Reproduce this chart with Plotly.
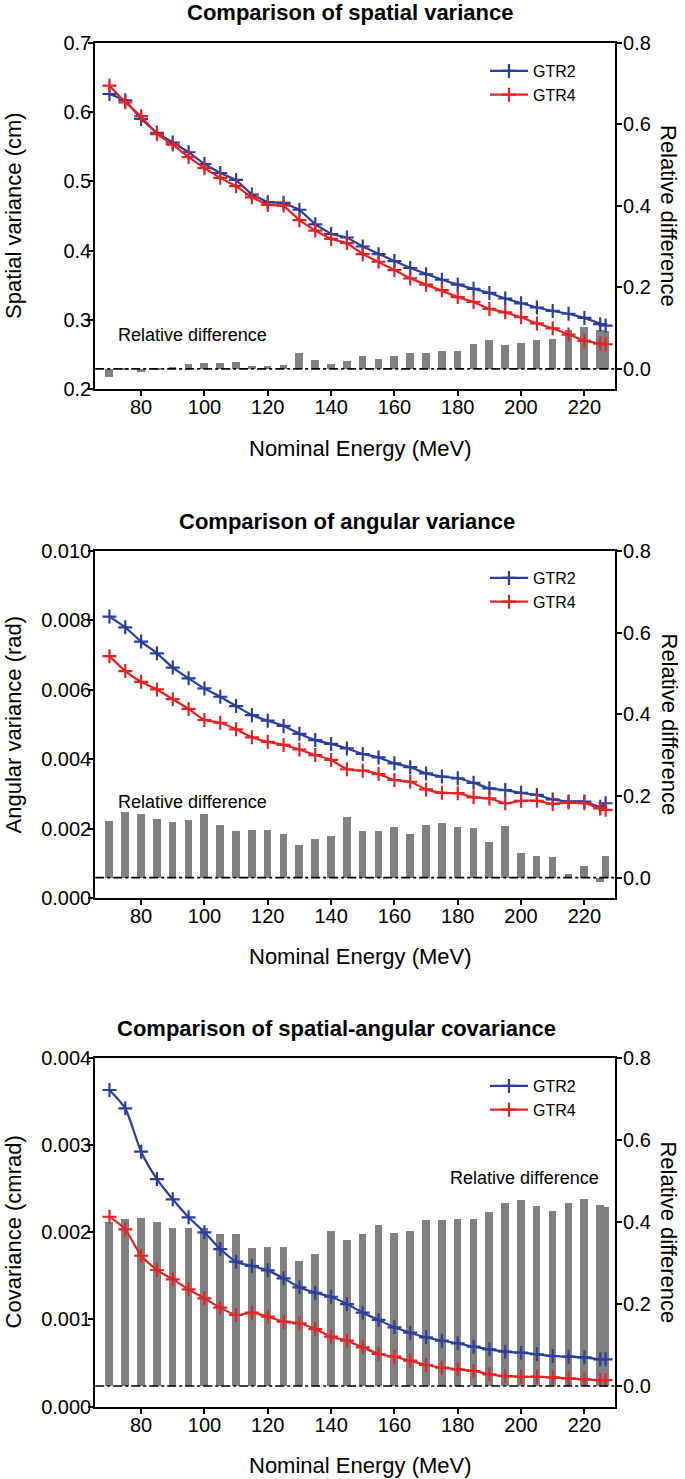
import plotly.graph_objects as go

energy = [70, 75, 80, 85, 90, 95, 100, 105, 110, 115, 120, 125, 130, 135, 140, 145,
          150, 155, 160, 165, 170, 175, 180, 185, 190, 195, 200, 205, 210, 215, 220, 225, 226.7]

spatial_gtr2 = [0.626, 0.617, 0.590, 0.570, 0.556, 0.542, 0.525, 0.512, 0.502, 0.481, 0.470,
                0.469, 0.459, 0.438, 0.424, 0.419, 0.406, 0.395, 0.385, 0.375, 0.366, 0.358,
                0.351, 0.345, 0.339, 0.331, 0.324, 0.318, 0.313, 0.309, 0.303, 0.294, 0.292]
spatial_gtr4 = [0.638, 0.614, 0.594, 0.568, 0.553, 0.535, 0.519, 0.505, 0.493, 0.477, 0.466,
                0.465, 0.444, 0.429, 0.417, 0.411, 0.395, 0.384, 0.372, 0.360, 0.351, 0.343,
                0.333, 0.326, 0.316, 0.311, 0.304, 0.295, 0.288, 0.279, 0.270, 0.266, 0.265]
spatial_rel = [-0.018, 0.004, -0.007, 0.001, 0.006, 0.013, 0.015, 0.016, 0.017, 0.008, 0.008,
               0.011, 0.040, 0.022, 0.013, 0.019, 0.033, 0.026, 0.033, 0.040, 0.040, 0.045,
               0.045, 0.062, 0.072, 0.059, 0.065, 0.072, 0.075, 0.097, 0.104, 0.095, 0.094]

angular_gtr2 = [0.00811, 0.00780, 0.00739, 0.00705, 0.00664, 0.00633, 0.00604, 0.00580, 0.00553,
                0.00527, 0.00511, 0.00496, 0.00473, 0.00455, 0.00444, 0.00431, 0.00415, 0.00405,
                0.00388, 0.00377, 0.00359, 0.00350, 0.00345, 0.00332, 0.00316, 0.00311, 0.00303,
                0.00297, 0.00284, 0.00278, 0.00278, 0.00263, 0.00273]
angular_gtr4 = [0.00697, 0.00654, 0.00623, 0.00601, 0.00573, 0.00545, 0.00513, 0.00505, 0.00486,
                0.00463, 0.00450, 0.00441, 0.00428, 0.00412, 0.00398, 0.00371, 0.00367, 0.00357,
                0.00340, 0.00335, 0.00313, 0.00303, 0.00302, 0.00290, 0.00287, 0.00273, 0.00280,
                0.00280, 0.00271, 0.00275, 0.00273, 0.00258, 0.00254]
angular_rel = [0.139, 0.160, 0.156, 0.143, 0.137, 0.141, 0.157, 0.129, 0.115, 0.116, 0.116,
               0.107, 0.080, 0.094, 0.102, 0.149, 0.115, 0.115, 0.125, 0.107, 0.130, 0.134,
               0.125, 0.121, 0.088, 0.126, 0.061, 0.053, 0.050, 0.009, 0.028, -0.010, 0.053]

cov_gtr2 = [0.003636, 0.003425, 0.002927, 0.002613, 0.002380, 0.002173, 0.002001, 0.001809,
            0.001664, 0.001614, 0.001564, 0.001473, 0.001369, 0.001307, 0.001261, 0.001177,
            0.001078, 0.000994, 0.000910, 0.000848, 0.000795, 0.000756, 0.000726, 0.000687,
            0.000657, 0.000630, 0.000618, 0.000600, 0.000580, 0.000572, 0.000565, 0.000542, 0.000542]
cov_gtr4 = [0.002180, 0.002035, 0.001732, 0.001568, 0.001461, 0.001346, 0.001243, 0.001135,
            0.001051, 0.001078, 0.001032, 0.000974, 0.000956, 0.000890, 0.000802, 0.000756,
            0.000680, 0.000603, 0.000572, 0.000526, 0.000477, 0.000446, 0.000427, 0.000408,
            0.000370, 0.000350, 0.000342, 0.000342, 0.000335, 0.000324, 0.000312, 0.000304, 0.000304]
cov_rel = [0.400, 0.408, 0.410, 0.400, 0.384, 0.384, 0.384, 0.370, 0.370, 0.335, 0.339,
           0.339, 0.304, 0.322, 0.377, 0.355, 0.370, 0.392, 0.373, 0.377, 0.404, 0.404,
           0.406, 0.408, 0.424, 0.446, 0.453, 0.438, 0.426, 0.446, 0.457, 0.442, 0.436]

titles = ["Comparison of spatial variance", "Comparison of angular variance",
          "Comparison of spatial-angular covariance"]
left_titles = ["Spatial variance (cm)", "Angular variance (rad)", "Covariance (cmrad)"]
x_title = "Nominal Energy (MeV)"
right_title = "Relative difference"
series_names = ["GTR2", "GTR4"]

W, H = 685, 1479
BLUE = "rgb(42,62,158)"
RED = "rgb(226,36,36)"
GRAY = "rgb(128,128,128)"
FONT = "Liberation Sans, Arial, sans-serif"

# pixel layout of panels (top, bottom)
panels_px = [(42.7, 389.3), (551.0, 898.0), (1058.3, 1406.5)]
x_px = (95.2, 615.1)
title_y = [12.0, 521.7, 1028.0]
title_x = [349.5, 347.0, 336.0]
xtitle_y = [448.3, 956.7, 1465.0]
leg_top = [54.0, 561.0, 1069.0]
rel_ann = [(115.8, 335.0, "left"), (115.8, 801.7, "left"), (447.8, 1178.3, "left")]

left_ranges = [[0.2, 0.7], [0.0, 0.010], [0.0, 0.004]]
left_dtick = [0.1, 0.002, 0.001]
left_fmt = [".1f", ".3f", ".3f"]
shapes_line = ["linear", "spline", "spline"]

data = [(spatial_gtr2, spatial_gtr4, spatial_rel),
        (angular_gtr2, angular_gtr4, angular_rel),
        (cov_gtr2, cov_gtr4, cov_rel)]

fig = go.Figure()
layout = dict(width=W, height=H, margin=dict(l=0, r=0, t=0, b=0, pad=0, autoexpand=False),
              paper_bgcolor="white", plot_bgcolor="white", template="none",
              font=dict(family=FONT, color="black"),
              bargap=0, barmode="overlay")
annotations = []
shapes = []

def px2py(p):
    return 1 - p / H

TICKFONT = dict(size=20, family=FONT, color="black")

for i, (g2, g4, rel) in enumerate(data):
    xa = "x" if i == 0 else f"x{i+1}"
    ybar = f"y{2*i+1}" if i > 0 else "y"
    yln = f"y{2*i+2}"
    xkey = "xaxis" if i == 0 else f"xaxis{i+1}"
    ybarkey = "yaxis" if i == 0 else f"yaxis{2*i+1}"
    ylnkey = f"yaxis{2*i+2}"
    top, bot = panels_px[i]
    dom_y = [px2py(bot), px2py(top)]
    leg = "legend" if i == 0 else f"legend{i+1}"

    fig.add_trace(go.Bar(x=energy, y=rel, width=2.4, marker=dict(color=GRAY, line=dict(width=0)),
                         xaxis=xa, yaxis=ybar, showlegend=False))
    for vals, name, col in [(g2, series_names[0], BLUE), (g4, series_names[1], RED)]:
        fig.add_trace(go.Scatter(x=energy, y=vals, name=name, mode="lines+markers",
                                 line=dict(color=col, width=2.2, shape=shapes_line[i], smoothing=0.6),
                                 marker=dict(symbol="cross-thin", size=10,
                                             line=dict(color=col, width=2.2)),
                                 xaxis=xa, yaxis=yln, legend=leg))

    common = dict(ticks="outside", ticklen=5, tickwidth=2, tickcolor="black",
                  showline=True, linecolor="black", linewidth=2,
                  showgrid=False, zeroline=False, automargin=False, tickfont=TICKFONT)
    layout[xkey] = dict(domain=[x_px[0] / W, x_px[1] / W], range=[65.5, 229.7],
                        anchor=ybar, tickvals=[80, 100, 120, 140, 160, 180, 200, 220],
                        mirror=True, ticklabelstandoff=-6, **common)
    layout[ybarkey] = dict(domain=dom_y, range=[-0.05, 0.8], anchor=xa, side="right",
                           tickvals=[0.0, 0.2, 0.4, 0.6, 0.8], tickformat=".1f",
                           ticklabelstandoff=-3, **common)
    layout[ylnkey] = dict(domain=dom_y, range=left_ranges[i], anchor=xa, side="left",
                          overlaying=ybar, dtick=left_dtick[i], tick0=left_ranges[i][0],
                          tickformat=left_fmt[i], ticklabelstandoff=-7, **common)
    layout[leg] = dict(x=485 / W, y=px2py(leg_top[i]), xanchor="left", yanchor="top",
                       bgcolor="rgba(0,0,0,0)", font=dict(size=16, family=FONT, color="black"),
                       tracegroupgap=0, itemwidth=38, borderwidth=0)

    shapes.append(dict(type="line", xref=f"{xa} domain", yref=ybar, x0=0, x1=1, y0=0, y1=0,
                       line=dict(color="black", width=1.6, dash="dashdot"), layer="above"))

    annotations.append(dict(text=f"<b>{titles[i]}</b>", x=title_x[i] / W, y=px2py(title_y[i]),
                            xref="paper", yref="paper", xanchor="center", yanchor="middle",
                            showarrow=False, font=dict(size=22, family=FONT, color="black")))
    annotations.append(dict(text=x_title, x=360 / W, y=px2py(xtitle_y[i]), xref="paper", yref="paper",
                            xanchor="center", yanchor="middle", showarrow=False,
                            font=dict(size=22, family=FONT, color="black")))
    mid = (top + bot) / 2
    annotations.append(dict(text=left_titles[i], x=13 / W, y=px2py(mid), xref="paper", yref="paper",
                            xanchor="center", yanchor="middle", textangle=-90, showarrow=False,
                            font=dict(size=22, family=FONT, color="black")))
    annotations.append(dict(text=right_title, x=669 / W, y=px2py(mid), xref="paper", yref="paper",
                            xanchor="center", yanchor="middle", textangle=90, showarrow=False,
                            font=dict(size=22, family=FONT, color="black")))
    ax, ay, anc = rel_ann[i]
    annotations.append(dict(text=right_title, x=ax / W, y=px2py(ay), xref="paper", yref="paper",
                            xanchor=anc, yanchor="middle", showarrow=False,
                            font=dict(size=18, family=FONT, color="black")))

layout["annotations"] = annotations
layout["shapes"] = shapes
fig.update_layout(**layout)
fig.write_html("out.html", config={"displayModeBar": False},
               post_script="document.body.style.margin='0';document.body.style.padding='0';")
